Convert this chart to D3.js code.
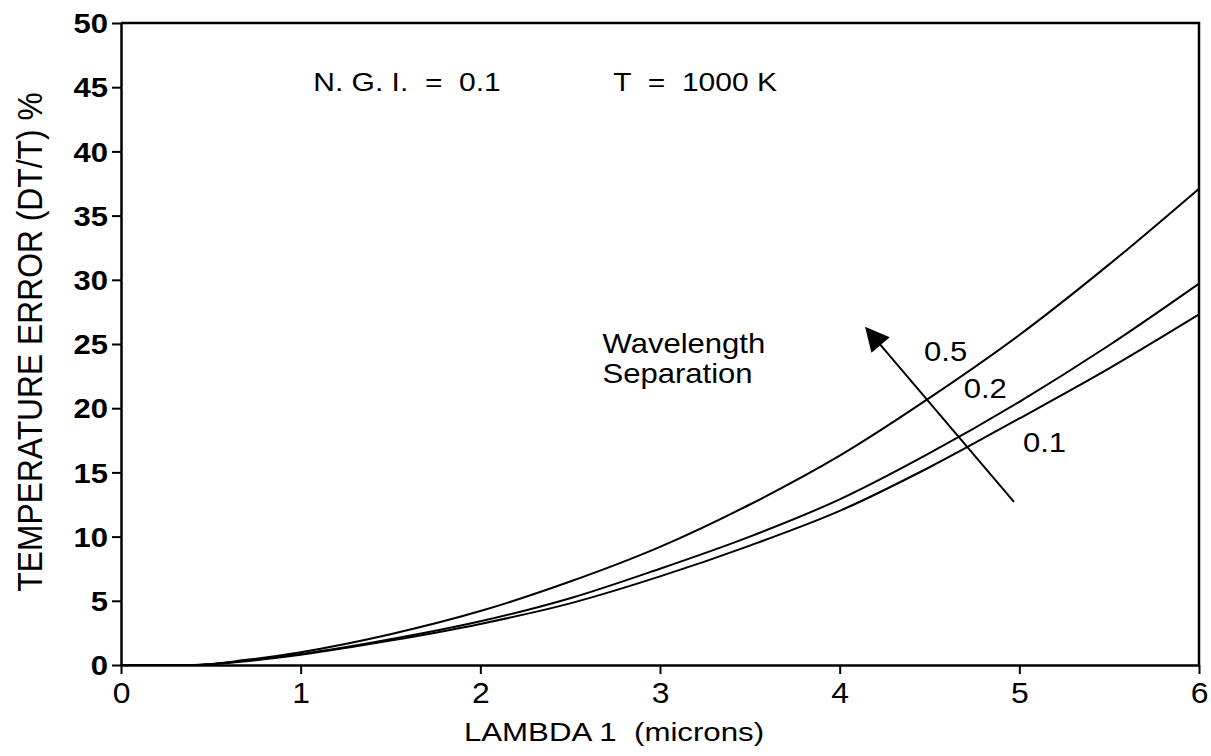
<!DOCTYPE html>
<head>
  <meta charset="utf-8">
  <script src="https://d3js.org/d3.v7.min.js"></script>
  <style>
    body { margin:0; background:#fff; }
    svg { display:block; }
    text { font-family: "Liberation Sans", Arial, sans-serif; fill:#000; white-space: pre; }
  </style>
</head>

<body>
	<script type='text/javascript'>
		// lambda 1 (microns)
		var lambda = [0, 0.4, 0.7, 1, 1.5, 2, 2.5, 3, 3.5, 4, 4.5, 5, 5.5, 6];
		// temperature error % for each wavelength separation
		var sep05 = [0, 0, 0.4, 1.0, 2.4, 4.2, 6.5, 9.2, 12.5, 16.3, 20.8, 25.7, 31.2, 37.1];
		var sep02 = [0, 0, 0.35, 0.85, 2.0, 3.4, 5.2, 7.5, 10.0, 12.9, 16.5, 20.5, 24.9, 29.7];
		var sep01 = [0, 0, 0.3, 0.8, 1.9, 3.2, 4.8, 6.9, 9.3, 12.0, 15.4, 19.2, 23.1, 27.3];
		var xTicks = [0, 1, 2, 3, 4, 5, 6];
		var yTicks = [0, 5, 10, 15, 20, 25, 30, 35, 40, 45, 50];

		var width = 1211, height = 756;

		var svg = d3.select('body').append('svg')
			.attr('width', width)
			.attr('height', height);

		var x = d3.scaleLinear().domain([0, 6]).range([121, 1199]);
		var y = d3.scaleLinear().domain([0, 50]).range([665, 23]);

		// frame (top and right sides)
		svg.append('path')
			.attr('d', 'M' + x(0) + ',' + y(50) + 'H' + x(6) + 'V' + y(0))
			.attr('fill', 'none')
			.attr('stroke', '#000')
			.attr('stroke-width', 2.5);

		var yAxis = d3.axisLeft(y).tickValues(yTicks).tickFormat(d3.format('d'))
			.tickSize(9).tickSizeOuter(0);
		var gy = svg.append('g')
			.attr('transform', 'translate(' + x(0) + ',0)')
			.call(yAxis);
		gy.select('.domain').attr('stroke-width', 2.5);
		gy.selectAll('.tick line').attr('stroke-width', 2);
		gy.selectAll('.tick text')
			.attr('font-size', 27)
			.attr('font-weight', 'bold')
			.attr('dy', '0.36em')
			.attr('x', -13 / 1.15)
			.attr('transform', 'scale(1.15,1)');

		var xAxis = d3.axisBottom(x).tickValues(xTicks).tickFormat(d3.format('d'))
			.tickSize(9).tickSizeOuter(0).tickPadding(8);
		var gx = svg.append('g')
			.attr('transform', 'translate(0,' + y(0) + ')')
			.call(xAxis);
		gx.select('.domain').attr('stroke-width', 2.5);
		gx.selectAll('.tick line').attr('stroke-width', 2);
		gx.selectAll('.tick text')
			.attr('font-size', 29)
			.attr('transform', 'scale(1.1,1)');

		function label(px, py, txt, size, sx, anchor) {
			return svg.append('text')
				.attr('transform', 'translate(' + px + ',' + py + ') scale(' + sx + ',1)')
				.attr('font-size', size)
				.attr('text-anchor', anchor || 'start')
				.text(txt);
		}

		// axis titles
		label(614, 741, 'LAMBDA 1  (microns)', 25, 1.25, 'middle');

		svg.append('text')
			.attr('transform', 'translate(42,342) rotate(-90) scale(1.06,1.17)')
			.attr('font-size', 30)
			.attr('text-anchor', 'middle')
			.text('TEMPERATURE ERROR (DT/T) %');

		// curves
		var line = d3.line()
			.x(d => x(d[0]))
			.y(d => y(d[1]))
			.curve(d3.curveMonotoneX);

		[sep05, sep02, sep01].forEach(function(s) {
			svg.append('path')
				.datum(lambda.map((l, i) => [l, s[i]]))
				.attr('d', line)
				.attr('fill', 'none')
				.attr('stroke', '#000')
				.attr('stroke-width', 2);
		});

		// annotations
		label(x(1.07), y(44.7), 'N. G. I.  =  0.1', 25, 1.2);
		label(x(2.74), y(44.7), 'T  =  1000 K', 25, 1.2);
		label(x(2.68), y(24.3), 'Wavelength', 27, 1.15);
		label(x(2.68), y(21.95), 'Separation', 27, 1.15);
		label(x(4.47), y(23.7), '0.5', 27, 1.15);
		label(x(4.69), y(20.8), '0.2', 27, 1.15);
		label(x(5.02), y(16.6), '0.1', 27, 1.15);

		// arrow
		svg.append('defs').append('marker')
			.attr('id', 'head')
			.attr('viewBox', '0 0 10 10')
			.attr('refX', 9).attr('refY', 5)
			.attr('markerWidth', 40).attr('markerHeight', 24)
			.attr('markerUnits', 'userSpaceOnUse')
			.attr('orient', 'auto')
			.append('path')
			.attr('d', 'M0,0L10,5L0,10Z')
			.attr('fill', '#000');

		svg.append('line')
			.attr('x1', x(4.97)).attr('y1', y(12.7))
			.attr('x2', x(4.15)).attr('y2', y(26.2))
			.attr('stroke', '#000')
			.attr('stroke-width', 2)
			.attr('marker-end', 'url(#head)');
	</script>
</body>
